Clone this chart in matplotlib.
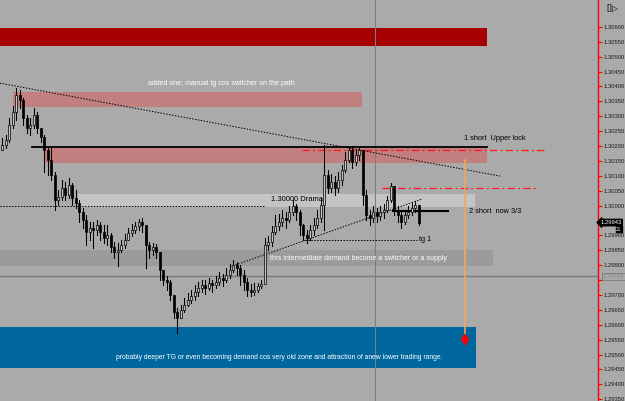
import numpy as np
import matplotlib
matplotlib.use("Agg")
import matplotlib.pyplot as plt
from matplotlib.patches import Rectangle

plt.rcParams['font.family'] = ['Liberation Sans', 'DejaVu Sans']

# ---------------- data ----------------
first_open = 1.30187
closes = [1.30203, 1.30220, 1.30271, 1.30314, 1.30371, 1.30354, 1.30294, 1.30260, 1.30271, 1.30304,
          1.30260, 1.30230, 1.30187, 1.30153, 1.30103, 1.30019, 1.30029, 1.30059, 1.30036, 1.30069,
          1.30026, 1.30009, 1.29979, 1.29952, 1.29911, 1.29925, 1.29918, 1.29935, 1.29911, 1.29891,
          1.29901, 1.29861, 1.29844, 1.29851, 1.29868, 1.29885, 1.29908, 1.29918, 1.29932, 1.29945,
          1.29935, 1.29868, 1.29851, 1.29861, 1.29844, 1.29784, 1.29750, 1.29744, 1.29700, 1.29643,
          1.29623, 1.29650, 1.29666, 1.29683, 1.29697, 1.29710, 1.29724, 1.29734, 1.29724, 1.29740,
          1.29734, 1.29744, 1.29757, 1.29750, 1.29767, 1.29784, 1.29801, 1.29791, 1.29767, 1.29744,
          1.29717, 1.29710, 1.29717, 1.29730, 1.29737, 1.29868, 1.29878, 1.29911, 1.29932, 1.29945,
          1.29958, 1.29952, 1.29979, 1.29999, 1.29979, 1.29935, 1.29901, 1.29891, 1.29918, 1.29935,
          1.29958, 1.30002, 1.30103, 1.30059, 1.30079, 1.30059, 1.30086, 1.30120, 1.30153, 1.30187,
          1.30146, 1.30170, 1.30187, 1.30036, 1.29968, 1.29958, 1.29979, 1.29965, 1.29979, 1.29985,
          1.30019, 1.30066, 1.29985, 1.29968, 1.29945, 1.29968, 1.29979, 1.29992, 1.30002, 1.29943]
highs = [1.30227, 1.30237, 1.30294, 1.30334, 1.30395, 1.30388, 1.30361, 1.30304, 1.30294, 1.30328,
         1.30314, 1.30260, 1.30237, 1.30193, 1.30193, 1.30113, 1.30052, 1.30086, 1.30079, 1.30093,
         1.30076, 1.30052, 1.30019, 1.29992, 1.29968, 1.29945, 1.29945, 1.29952, 1.29945, 1.29935,
         1.29935, 1.29908, 1.29878, 1.29874, 1.29885, 1.29905, 1.29925, 1.29938, 1.29945, 1.29955,
         1.29958, 1.29935, 1.29878, 1.29874, 1.29871, 1.29844, 1.29784, 1.29764, 1.29750, 1.29700,
         1.29656, 1.29666, 1.29690, 1.29707, 1.29717, 1.29734, 1.29744, 1.29750, 1.29750, 1.29757,
         1.29750, 1.29764, 1.29777, 1.29770, 1.29791, 1.29804, 1.29817, 1.29811, 1.29801, 1.29784,
         1.29757, 1.29737, 1.29740, 1.29740, 1.29750, 1.29891, 1.29898, 1.29932, 1.29968, 1.29972,
         1.29985, 1.29979, 1.29999, 1.30019, 1.30005, 1.29985, 1.29938, 1.29918, 1.29935, 1.29958,
         1.29985, 1.30026, 1.30203, 1.30120, 1.30106, 1.30099, 1.30113, 1.30136, 1.30180, 1.30200,
         1.30200, 1.30187, 1.30197, 1.30187, 1.30052, 1.29985, 1.29999, 1.29992, 1.29999, 1.30005,
         1.30032, 1.30076, 1.30066, 1.29999, 1.29985, 1.29985, 1.29999, 1.30009, 1.30015, 1.30002]
lows = [1.30187, 1.30193, 1.30213, 1.30260, 1.30287, 1.30328, 1.30271, 1.30244, 1.30237, 1.30260,
        1.30244, 1.30213, 1.30113, 1.30103, 1.30086, 1.29985, 1.30002, 1.30019, 1.30019, 1.30026,
        1.30002, 1.29992, 1.29945, 1.29925, 1.29868, 1.29885, 1.29858, 1.29901, 1.29885, 1.29874,
        1.29868, 1.29844, 1.29824, 1.29797, 1.29844, 1.29858, 1.29885, 1.29898, 1.29908, 1.29918,
        1.29911, 1.29791, 1.29824, 1.29834, 1.29824, 1.29750, 1.29734, 1.29717, 1.29683, 1.29623,
        1.29572, 1.29623, 1.29643, 1.29663, 1.29673, 1.29683, 1.29697, 1.29710, 1.29703, 1.29717,
        1.29710, 1.29724, 1.29734, 1.29730, 1.29744, 1.29757, 1.29777, 1.29767, 1.29734, 1.29717,
        1.29697, 1.29697, 1.29700, 1.29710, 1.29724, 1.29770, 1.29851, 1.29864, 1.29905, 1.29918,
        1.29932, 1.29925, 1.29945, 1.29968, 1.29952, 1.29901, 1.29885, 1.29874, 1.29885, 1.29901,
        1.29925, 1.29945, 1.29918, 1.30042, 1.30046, 1.30036, 1.30046, 1.30069, 1.30113, 1.30146,
        1.30126, 1.30136, 1.30153, 1.30002, 1.29952, 1.29935, 1.29945, 1.29945, 1.29952, 1.29958,
        1.29979, 1.30012, 1.29968, 1.29945, 1.29925, 1.29938, 1.29958, 1.29968, 1.29979, 1.29935]

price_ticks = [1.29350, 1.29400, 1.29450, 1.29500, 1.29550, 1.29600, 1.29650, 1.29700, 1.29750,
               1.29800, 1.29850, 1.29900, 1.29950, 1.30000, 1.30050, 1.30100, 1.30150, 1.30200,
               1.30250, 1.30300, 1.30350, 1.30400, 1.30450, 1.30500, 1.30550, 1.30600]
hidden_tick_labels = [1.29750, 1.29950]

# zones: (low price, high price)
zone_far_supply = (1.30535, 1.30596)
zone_added = (1.30331, 1.30381)
zone_upper = (1.30143, 1.30193)
zone_drama = (1.29995, 1.30039)
zone_intermediate = (1.29797, 1.29851)
zone_demand = (1.29455, 1.29593)

level_upper_line = 1.30197
level_drama = 1.30000
level_short1 = 1.30185
level_short2_dd = 1.30059
level_short2 = 1.29982
level_tg1 = 1.29885
level_grey = 1.29762
current_price = 1.29943
trend_down = (1.30411, 1.30099)
trend_up = (1.29794, 1.30022)
arrow_top = 1.30153
arrow_tip = 1.29520

# ---------------- layout ----------------
W, H = 625, 401
AXW = 598
BG = '#aaaaaa'
BAR_PX = 3.5
X0 = -0.6

fig = plt.figure(figsize=(W / 100, H / 100), dpi=100, facecolor=BG)
ax = fig.add_axes([0, 0, AXW / W, 1])
ax.set_facecolor(BG)
ax.set_ylim(1.29344, 1.30690)
ax.set_xlim(X0, X0 + AXW / BAR_PX)
YT = ax.get_yaxis_transform()


def fx(px):
    return px / AXW


def zone(z, x0, x1, color, zo=1):
    ax.add_patch(Rectangle((fx(x0), z[0]), fx(x1) - fx(x0), z[1] - z[0],
                           transform=YT, facecolor=color, edgecolor='none', zorder=zo))


def hline(y, x0, x1, **kw):
    ax.plot([fx(x0), fx(x1)], [y, y], transform=YT, **kw)


zone(zone_far_supply, 0, 487, '#a60000')
zone(zone_added, 13, 362, '#c27f7f')
zone(zone_upper, 45, 487, '#c27f7f')
zone(zone_drama, 78, 475, '#c4c4c4')
zone(zone_intermediate, 0, 493, '#9b9b9b')
zone(zone_demand, 0, 476, '#00679e')

# grey horizontal + vertical
hline(level_grey, 0, AXW, color='#7a7a7a', lw=1.0, zorder=2)
ax.plot([fx(375), fx(375)], [0, 1], transform=ax.transAxes, color='#7d7d7d', lw=0.8, zorder=2)

# lines
hline(level_upper_line, 32, 487, color='black', lw=1.3, zorder=3)
hline(level_drama, 0, 265, color='black', lw=0.7, ls=(0, (1.5, 1.5)), zorder=3)
hline(level_short1, 302, 545, color='#ff1a1a', lw=0.9, ls=(0, (6, 2.5, 1.5, 2.5)), zorder=3)
hline(level_short2_dd, 382, 535, color='#ff1a1a', lw=0.9, ls=(0, (6, 2.5, 1.5, 2.5)), zorder=3)
hline(level_short2, 393, 448, color='black', lw=1.5, zorder=3)
hline(level_tg1, 305, 417, color='black', lw=0.7, ls=(0, (1.5, 1.5)), zorder=3)
ax.plot([fx(0), fx(500)], list(trend_down), transform=YT, color='black', lw=0.7,
        ls=(0, (1.5, 1.5)), zorder=3)
ax.plot([fx(230), fx(422)], list(trend_up), transform=YT, color='black', lw=0.7,
        ls=(0, (1.5, 1.5)), zorder=3)

# orange vertical and red arrow
ax.plot([fx(465), fx(465)], [arrow_top, 1.29572], transform=YT, color='#f2a65a', lw=1.2, zorder=3)
ax.annotate('', xy=(fx(465), arrow_tip), xytext=(fx(465), 1.29575), xycoords=YT, textcoords=YT,
            arrowprops=dict(arrowstyle='simple,head_width=0.7,head_length=0.55,tail_width=0.35',
                            color='#ff0000', lw=0), zorder=5)

# candles
n = len(closes)
xs = np.arange(n)
opens = [first_open] + closes[:-1]
for i in range(n):
    o, c = opens[i], closes[i]
    hi = max(highs[i], o, c)
    lo = min(lows[i], o, c)
    ax.plot([xs[i], xs[i]], [lo, hi], color='black', lw=0.75, zorder=4)
    up = c >= o
    ax.add_patch(Rectangle((xs[i] - 0.3, min(o, c)), 0.6, max(abs(c - o), 0.000015),
                           facecolor='#c4c4c4' if up else 'black', edgecolor='black',
                           lw=0.5, zorder=5))

# texts
ax.text(fx(221), 1.30410, 'added one; manual tg cos switcher on the path', transform=YT,
        color='white', fontsize=5, ha='center', va='center', zorder=6)
ax.text(fx(464), 1.30225, '1 short  Upper lock', transform=YT, color='black', fontsize=5.3,
        ha='left', va='center', zorder=6)
ax.text(fx(271), 1.30019, '1.30000 Drama', transform=YT, color='black', fontsize=5.5,
        ha='left', va='center', zorder=6)
ax.text(fx(469), 1.29979, '2 short  now 3/3', transform=YT, color='black', fontsize=5.3,
        ha='left', va='center', zorder=6)
ax.text(fx(419), 1.29885, 'tg 1', transform=YT, color='black', fontsize=5.3,
        ha='left', va='center', zorder=6)
ax.text(fx(270), 1.29822, 'this intermediate demand become a switcher or a supply', transform=YT,
        color='white', fontsize=5, ha='left', va='center', zorder=6)
ax.text(fx(279), 1.29489, 'probably deeper TG or even becoming demand cos very old zone and '
        'attraction of anew lower trading range.', transform=YT,
        color='white', fontsize=4.85, ha='center', va='center', zorder=6)

# axis styling
for s in ['left', 'top', 'bottom']:
    ax.spines[s].set_visible(False)
ax.spines['right'].set_color('#ff0000')
ax.spines['right'].set_linewidth(1.0)
ax.set_xticks([])
ax.yaxis.tick_right()
ax.set_yticks(price_ticks)
ax.set_yticklabels(['' if any(abs(p - h) < 1e-7 for h in hidden_tick_labels) else f'{p:.5f}'
                    for p in price_ticks])
ax.tick_params(axis='y', colors='#ff0000', labelcolor='#1a1a1a', length=3, width=0.8,
               direction='out', pad=1.2, labelsize=4.2)

# current price tag
ax.text(1.004, current_price, f'{current_price:.5f}', transform=YT, color='white', fontsize=4.2,
        ha='left', va='center', zorder=7,
        bbox=dict(boxstyle='larrow,pad=0.12', facecolor='black', edgecolor='black'))
ax.text(1.03, 1.29921, '21', transform=YT, color='white', fontsize=3.4,
        ha='left', va='center', zorder=7,
        bbox=dict(boxstyle='square,pad=0.05', facecolor='black', edgecolor='black'))
ax.text(1.008, level_grey, f'{level_grey:.5f}', transform=YT, color='#888888', fontsize=4.2,
        ha='left', va='center', zorder=7,
        bbox=dict(boxstyle='square,pad=0.12', facecolor=BG, edgecolor='#7a7a7a', lw=0.6))
fig.text(612 / W, 1 - 8 / H, '[]▷', color='black', fontsize=5.5, ha='center', va='center',
         family=['DejaVu Sans'])

fig.savefig('out.png', dpi=100, facecolor=BG)
